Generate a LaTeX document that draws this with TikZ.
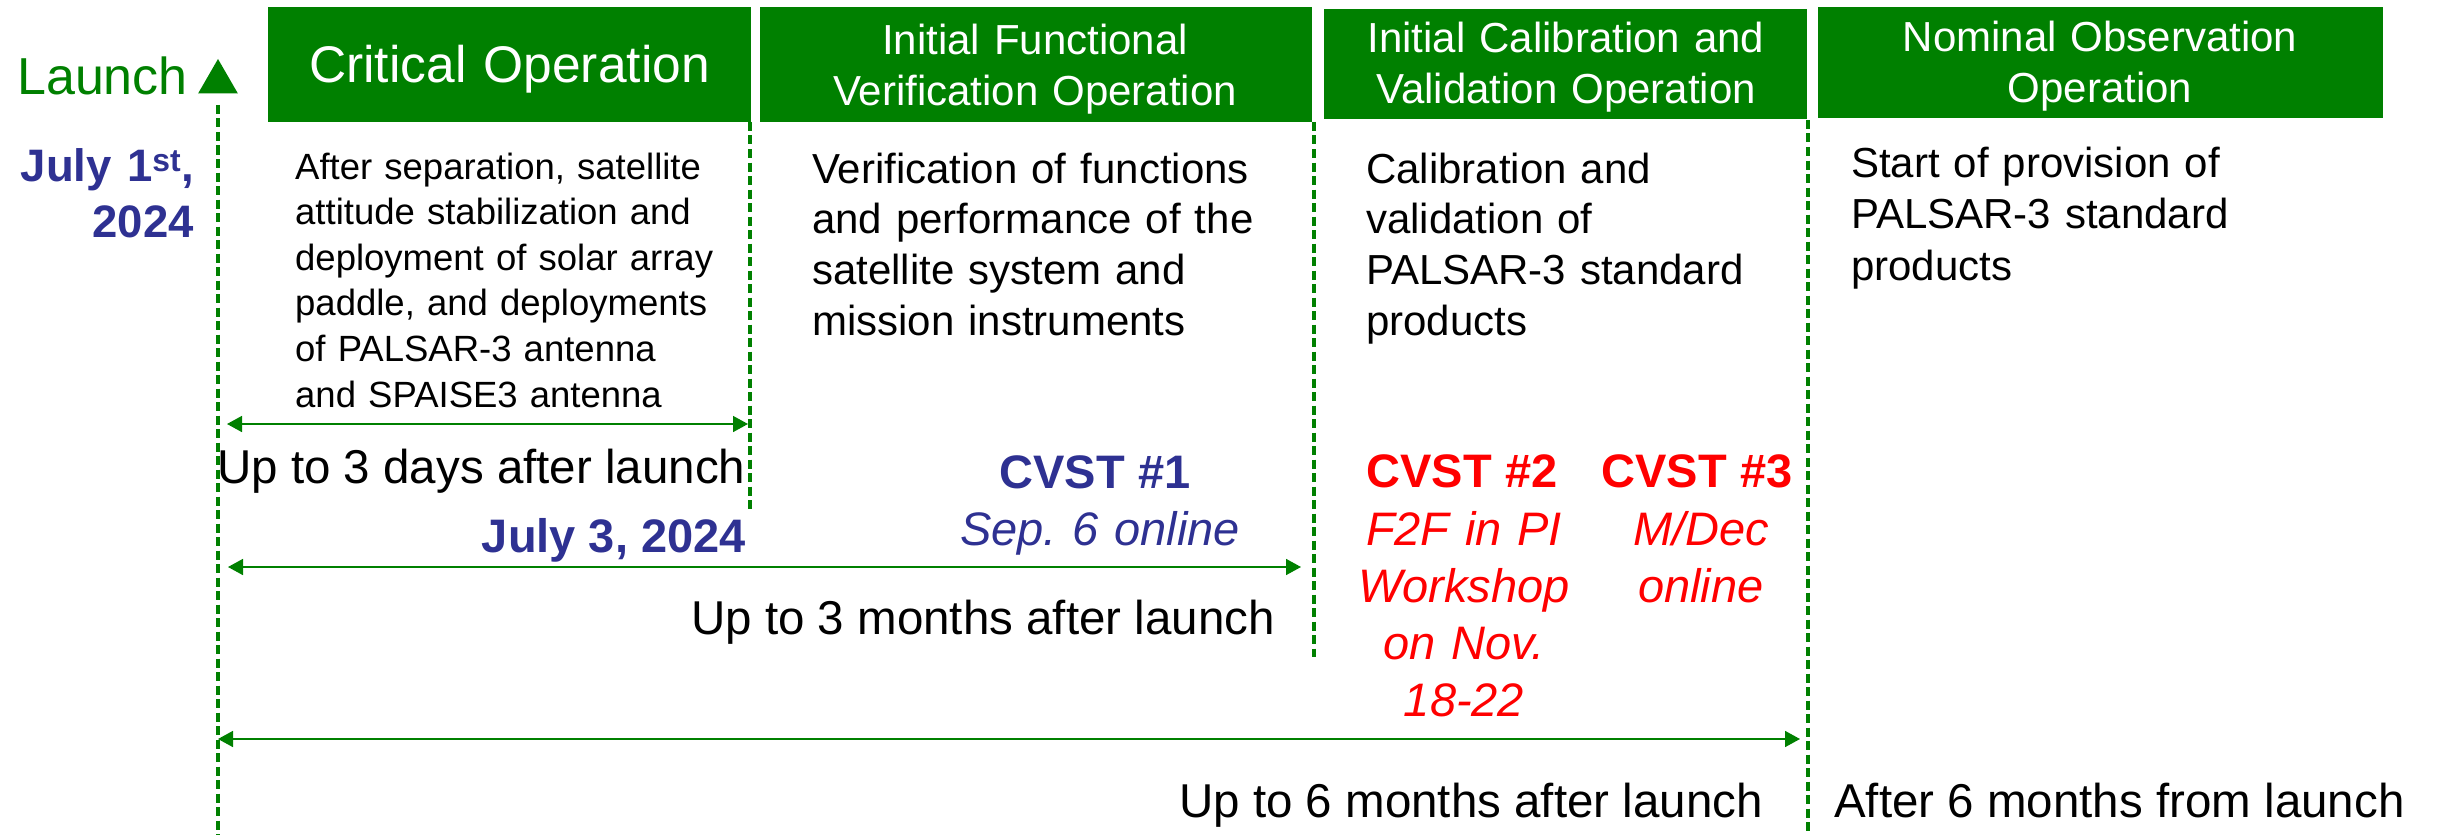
\documentclass[tikz,border=0pt]{standalone}
\usepackage{fontspec}
\setmainfont{Liberation Sans}
\usetikzlibrary{arrows.meta,shapes.geometric}
\definecolor{hdgreen}{RGB}{0,128,0}
\definecolor{navyblue}{RGB}{46,49,146}
\definecolor{cvred}{RGB}{255,0,0}
\frenchspacing
\begin{document}
\begin{tikzpicture}[x=1pt,y=-1pt,
  hdr/.style={fill=hdgreen,draw=none,anchor=north west,inner sep=0pt},
  hdtitle/.style={text=white,inner sep=0pt,anchor=base,align=center,text width=540pt,font=\fontsize{42}{51}\selectfont},
  body/.style={inner sep=0pt,anchor=base west,align=left,text width=520pt},
  span/.style={inner sep=0pt,anchor=base west,font=\fontsize{47.5}{57}\selectfont},
  vdash/.style={draw=hdgreen,line width=3.2pt,dash pattern=on 9pt off 4.5pt},
  durarrow/.style={draw=hdgreen,line width=1.6pt,{Triangle[length=15pt,width=16pt]}-{Triangle[length=15pt,width=16pt]}},
  cvtitle/.style={inner sep=0pt,anchor=base,font=\bfseries\fontsize{47}{57}\selectfont},
  cvnote/.style={inner sep=0pt,anchor=base,align=center,text width=320pt,font=\itshape\fontsize{47}{57.3}\selectfont}
]
\useasboundingbox (0,0) rectangle (2438,840);

% header bars
\node[hdr,minimum width=483pt,minimum height=115pt] (h1) at (268,7) {};
\node[hdr,minimum width=552pt,minimum height=115pt] (h2) at (760,7) {};
\node[hdr,minimum width=483pt,minimum height=110pt] (h3) at (1324,9) {};
\node[hdr,minimum width=565pt,minimum height=111pt] (h4) at (1818,7) {};

\node[hdtitle,font=\fontsize{51.5}{60}\selectfont] (t1) at (509.5,83) {Critical Operation};
\node[hdtitle] (t2) at (1035,55) {Initial Functional\\Verification Operation};
\node[hdtitle] (t3) at (1566,53) {Initial Calibration and\\Validation Operation};
\node[hdtitle] (t4) at (2100,52) {Nominal Observation\\Operation};

% launch marker
\node[inner sep=0pt,anchor=base west,text=hdgreen,font=\fontsize{52}{60}\selectfont] (launch) at (17,95) {Launch};
\node[fill=hdgreen,regular polygon,regular polygon sides=3,inner sep=0pt,minimum size=46pt] (tri) at (218,82) {};
\node[inner sep=0pt,anchor=base east,align=right,text width=200pt,text=navyblue,font=\bfseries\fontsize{45.5}{56}\selectfont] (d1) at (194,181) {July 1\textsuperscript{st},\\2024};

% body texts
\node[body,font=\fontsize{36.5}{45.6}\selectfont] (b1) at (295,179) {After separation, satellite\\attitude stabilization and\\deployment of solar array\\paddle, and deployments\\of PALSAR-3 antenna\\and SPAISE3 antenna};
\node[body,font=\fontsize{42}{50.7}\selectfont] (b2) at (812,183) {Verification of functions\\and performance of the\\satellite system and\\mission instruments};
\node[body,font=\fontsize{42}{50.7}\selectfont] (b3) at (1366,183) {Calibration and\\validation of\\PALSAR-3 standard\\products};
\node[body,font=\fontsize{42}{51.5}\selectfont] (b4) at (1851,177) {Start of provision of\\PALSAR-3 standard\\products};

% dashed milestone lines
\coordinate (d1top) at (218,105);
\coordinate (d1bot) at (218,835);
\coordinate (d2top) at (750,122);
\coordinate (d2bot) at (750,513);
\coordinate (d3top) at (1314,122);
\coordinate (d3bot) at (1314,657);
\coordinate (d4top) at (1808,120);
\coordinate (d4bot) at (1808,835);
\draw[vdash] (d1top) -- (d1bot);
\draw[vdash] (d2top) -- (d2bot);
\draw[vdash] (d3top) -- (d3bot);
\draw[vdash] (d4top) -- (d4bot);

% duration arrows
\coordinate (a1l) at (227,424);
\coordinate (a1r) at (748,424);
\coordinate (a2l) at (228,567);
\coordinate (a2r) at (1301,567);
\coordinate (a3l) at (218,739);
\coordinate (a3r) at (1800,739);
\draw[durarrow] (a1l) -- (a1r);
\draw[durarrow] (a2l) -- (a2r);
\draw[durarrow] (a3l) -- (a3r);

% labels
\node[span] (s1) at (217,483) {Up to 3 days after launch};
\node[inner sep=0pt,anchor=base east,text=navyblue,font=\bfseries\fontsize{47}{57}\selectfont] (d3) at (746,552) {July 3, 2024};
\node[span] (s2) at (691,634) {Up to 3 months after launch};
\node[span] (s3) at (1179,817) {Up to 6 months after launch};
\node[span] (s4) at (1834,817) {After 6 months from launch};

\node[cvtitle,text=navyblue] (c1) at (1095,488) {CVST \#1};
\node[cvnote,text=navyblue] (c1n) at (1100,545) {Sep. 6 online};
\node[cvtitle,text=cvred] (c2) at (1462,487) {CVST \#2};
\node[cvnote,text=cvred] (c2n) at (1464,545) {F2F in PI\\Workshop\\on Nov.\\18-22};
\node[cvtitle,text=cvred] (c3) at (1697,487) {CVST \#3};
\node[cvnote,text=cvred] (c3n) at (1701,545) {M/Dec\\online};
\end{tikzpicture}
\end{document}
